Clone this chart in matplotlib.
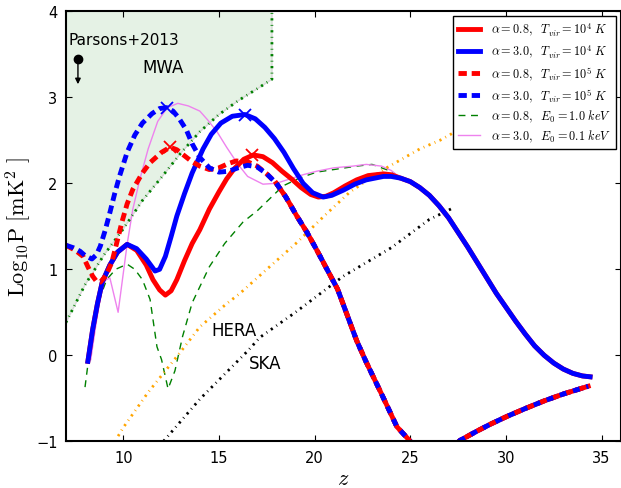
""" 21cm power spectrum vs redshift, with MWA / HERA / SKA sensitivities
"""
import numpy as np
import matplotlib
matplotlib.use('Agg')
from matplotlib import pyplot as plt

plt.rcParams['mathtext.fontset'] = 'cm'
plt.rcParams['lines.scale_dashes'] = False
plt.rcParams['xtick.direction'] = 'in'
plt.rcParams['ytick.direction'] = 'in'
plt.rcParams['xtick.top'] = True
plt.rcParams['ytick.right'] = True
plt.rcParams['xtick.major.size'] = 4
plt.rcParams['ytick.major.size'] = 4
plt.rcParams['xtick.major.pad'] = 6
plt.rcParams['ytick.major.pad'] = 6
plt.rcParams['axes.linewidth'] = 1.5

#% data
# common tail of the T_vir=1e4 K models
tail_z = [24.5, 25.0, 25.5, 26.0, 26.5, 27.0, 27.5, 28.0, 28.5, 29.0, 29.5, 30.0,
          30.5, 31.0, 31.5, 32.0, 32.5, 33.0, 33.5, 34.0, 34.4]
tail_v = [2.06, 2.02, 1.95, 1.86, 1.74, 1.60, 1.43, 1.26, 1.08, 0.90, 0.72, 0.56,
          0.40, 0.25, 0.11, 0.00, -0.09, -0.16, -0.21, -0.24, -0.25]

a08_t4_z = [8.15, 8.4, 8.65, 8.9, 9.3, 9.7, 10.2, 10.7, 11.2, 11.55, 11.9, 12.2,
            12.5, 12.8, 13.2, 13.6, 14.0, 14.5, 15.0, 15.4, 15.8, 16.3, 16.8, 17.3,
            17.8, 18.3, 18.8, 19.3, 19.8, 20.2, 20.6, 21.0, 21.6, 22.2, 22.8, 23.6, 24.0]
a08_t4_v = [-0.07, 0.30, 0.60, 0.85, 1.05, 1.20, 1.29, 1.22, 1.05, 0.88, 0.76, 0.70,
            0.75, 0.88, 1.10, 1.30, 1.46, 1.70, 1.90, 2.05, 2.17, 2.28, 2.33, 2.31,
            2.24, 2.14, 2.05, 1.95, 1.87, 1.84, 1.85, 1.89, 1.97, 2.04, 2.09, 2.11, 2.10]

a30_t4_z = [8.15, 8.4, 8.65, 8.9, 9.3, 9.7, 10.2, 10.7, 11.2, 11.66, 11.9, 12.2,
            12.5, 12.8, 13.2, 13.6, 14.17, 14.6, 15.1, 15.7, 16.36, 16.9, 17.4, 17.9,
            18.4, 18.9, 19.4, 19.9, 20.45, 20.9, 21.5, 22.1, 22.7, 23.6, 24.0]
a30_t4_v = [-0.07, 0.30, 0.60, 0.85, 1.05, 1.20, 1.29, 1.24, 1.12, 0.98, 1.00, 1.15,
            1.38, 1.62, 1.88, 2.12, 2.40, 2.57, 2.70, 2.78, 2.80, 2.75, 2.65, 2.52,
            2.36, 2.17, 2.00, 1.89, 1.84, 1.86, 1.92, 1.99, 2.04, 2.08, 2.08]

# T_vir=1e5 K models merge after z~18
t5_tail_z = [18.0, 18.5, 19.07, 19.6, 20.1, 20.6, 21.2, 21.7, 22.2, 22.7, 23.5,
             24.3, 25.0, 25.3, 27.3, 27.6, 28.5, 29.2, 30.06, 31.0, 32.0, 33.0, 34.3]
t5_tail_v = [2.00, 1.84, 1.62, 1.43, 1.23, 1.02, 0.77, 0.47, 0.17, -0.08, -0.45,
             -0.83, -1.00, -1.10, -1.05, -0.99, -0.88, -0.80, -0.71, -0.62, -0.53, -0.45, -0.36]

a08_t5_z = [7.0, 7.5, 7.9, 8.15, 8.4, 8.6, 8.8, 9.1, 9.4, 9.65, 9.93, 10.2, 10.5,
            11.0, 11.4, 12.0, 12.45, 12.8, 13.2, 13.6, 14.0, 14.5, 15.0, 15.5, 15.9,
            16.5, 17.0, 17.5]
a08_t5_v = [1.28, 1.22, 1.15, 1.03, 0.92, 0.86, 0.85, 0.93, 1.08, 1.30, 1.55, 1.76, 1.93,
            2.12, 2.24, 2.36, 2.42, 2.39, 2.32, 2.25, 2.20, 2.16, 2.18, 2.23, 2.26,
            2.25, 2.20, 2.11]

a30_t5_z = [7.0, 7.4, 7.74, 8.0, 8.36, 8.6, 8.8, 9.05, 9.3, 9.55, 9.8, 10.2, 10.6,
            11.0, 11.5, 11.9, 12.27, 12.6, 12.9, 13.3, 13.6, 14.0, 14.5, 15.0, 15.5,
            16.0, 16.5, 17.0, 17.5]
a30_t5_v = [1.28, 1.25, 1.21, 1.16, 1.12, 1.17, 1.27, 1.45, 1.66, 1.88, 2.08, 2.36, 2.56,
            2.70, 2.81, 2.87, 2.88, 2.84, 2.76, 2.62, 2.46, 2.30, 2.18, 2.13, 2.14,
            2.18, 2.21, 2.19, 2.11]

a08_e10_z = [8.0, 8.5, 9.13, 9.6, 10.2, 10.6, 11.0, 11.4, 11.76, 12.0, 12.34, 12.7,
             13.1, 13.6, 14.5, 15.3, 16.26, 17.0, 18.35, 19.2, 20.1, 21.3, 22.2,
             23.0, 24.0]
a08_e10_v = [-0.37, 0.50, 0.88, 1.00, 1.06, 1.00, 0.88, 0.65, 0.10, -0.05, -0.39, -0.18,
             0.22, 0.61, 1.03, 1.30, 1.55, 1.68, 1.97, 2.06, 2.13, 2.17, 2.20,
             2.22, 2.14]

a30_e01_z = [8.3, 8.6, 8.95, 9.3, 9.73, 10.2, 10.5, 10.87, 11.3, 11.8, 12.3, 12.85,
             13.4, 14.0, 14.4, 14.9, 15.4, 16.0, 16.5, 17.3, 18.0, 18.7, 19.4, 20.1,
             21.0, 22.0, 22.7, 23.5, 24.0]
a30_e01_v = [-0.05, 0.40, 0.86, 0.90, 0.50, 1.29, 1.70, 2.05, 2.40, 2.72, 2.88, 2.93,
             2.90, 2.84, 2.74, 2.60, 2.42, 2.22, 2.08, 1.99, 2.00, 2.05, 2.10, 2.14,
             2.18, 2.20, 2.22, 2.20, 2.15]

# peak markers
peak_z = {'blue': [12.27, 16.36], 'red': [12.45, 16.73]}
peak_v = {'blue': [2.88, 2.80], 'red': [2.42, 2.33]}

# instruments
mwa_z = [7.0, 8.0, 9.0, 10.0, 11.0, 12.0, 13.0, 14.0, 15.0, 16.0, 17.0, 17.77, 17.77]
mwa_v = [0.38, 0.82, 1.17, 1.47, 1.80, 2.07, 2.35, 2.60, 2.80, 2.96, 3.10, 3.21, 4.0]
hera_z = [9.73, 10.0, 11.3, 12.96, 14.0, 15.4, 16.1, 17.5, 19.07, 20.5, 21.85,
          23.6, 25.5, 26.55, 28.0]
hera_v = [-0.94, -0.84, -0.43, 0.03, 0.33, 0.60, 0.72, 1.00, 1.31, 1.62, 1.90,
          2.16, 2.40, 2.50, 2.68]
ska_z = [12.1, 14.0, 16.5, 17.15, 19.0, 21.5, 24.0, 26.0, 27.3]
ska_v = [-1.0, -0.51, 0.05, 0.21, 0.50, 0.92, 1.25, 1.58, 1.72]
parsons_z, parsons_v, parsons_lim = 7.63, 3.44, 3.12

labels = [r'$\alpha=0.8,\ \ T_{vir}=10^4\ K$',
          r'$\alpha=3.0,\ \ T_{vir}=10^4\ K$',
          r'$\alpha=0.8,\ \ T_{vir}=10^5\ K$',
          r'$\alpha=3.0,\ \ T_{vir}=10^5\ K$',
          r'$\alpha=0.8,\ \ E_0=1.0\ keV$',
          r'$\alpha=3.0,\ \ E_0=0.1\ keV$']

#% plot
fig = plt.figure(figsize=(6.21, 4.89), dpi=100)
ax = fig.add_axes([0.1061, 0.0955, 0.8934, 0.8793])

dd = (1.6, 3.2, 0.6, 3.2)  # dash-dot-ish pattern of the sensitivity curves
ax.fill_between(mwa_z, mwa_v, 4, color='green', alpha=0.1, lw=0)
ax.plot(mwa_z, mwa_v, color='0.85', lw=1, zorder=1.8)
ax.plot(mwa_z, mwa_v, color='g', lw=2, dashes=dd)
ax.plot(hera_z, hera_v, color='orange', lw=2, dashes=dd)
ax.plot(ska_z, ska_v, color='k', lw=2, dashes=dd)

ax.plot(a08_t4_z + tail_z, a08_t4_v + tail_v, 'r-', lw=3.5, label=labels[0])
ax.plot(a30_t4_z + tail_z, a30_t4_v + tail_v, 'b-', lw=3.5, label=labels[1])
ax.plot(a08_t5_z + t5_tail_z, a08_t5_v + t5_tail_v, 'r', lw=3.5, dashes=(6, 3.5),
        label=labels[2])
ax.plot(a30_t5_z + t5_tail_z, a30_t5_v + t5_tail_v, 'b', lw=3.5, dashes=(6, 3.5),
        label=labels[3])
# where the two T_vir=1e5 curves coincide the dashes alternate red / blue
ax.plot(t5_tail_z, t5_tail_v, 'r-', lw=3.5)
ax.plot(t5_tail_z, t5_tail_v, 'b', lw=3.5, dashes=(5, 5))
ax.plot(a08_e10_z + tail_z, a08_e10_v + tail_v, 'g', lw=1, dashes=(5, 4),
        label=labels[4], zorder=1.9)
ax.plot(a30_e01_z + tail_z, a30_e01_v + tail_v, color='violet', lw=1,
        label=labels[5], zorder=1.95)

for c in ['blue', 'red']:
    ax.plot(peak_z[c], peak_v[c], 'x', color=c, ms=8.5, mew=1.3)

ax.plot(parsons_z, parsons_v, 'ko', ms=6)
ax.annotate('', xy=(parsons_z, parsons_lim), xytext=(parsons_z, parsons_v),
            arrowprops=dict(arrowstyle='-|>', color='k', lw=1, mutation_scale=8))
ax.text(7.16, 3.67, 'Parsons+2013', fontsize=11, ha='left', va='center')
ax.text(12.08, 3.35, 'MWA', fontsize=12, ha='center', va='center')
ax.text(15.79, 0.29, 'HERA', fontsize=12, ha='center', va='center')
ax.text(17.4, -0.09, 'SKA', fontsize=12, ha='center', va='center')

ax.set_xlim(7, 36)
ax.set_ylim(-1, 4)
ax.set_xticks([10, 15, 20, 25, 30, 35])
ax.set_yticks([-1, 0, 1, 2, 3, 4])
ax.tick_params(labelsize=10.5)
ax.set_xlabel(r'$z$', fontsize=16)
ax.set_ylabel(r'$\mathrm{Log_{10}P\ [mK^2\ ]}$', fontsize=16)
ax.xaxis.set_label_coords(0.5, -0.062)
ax.yaxis.set_label_coords(-0.059, 0.5)

leg = ax.legend(loc='upper right', fontsize=8.8, handlelength=1.8, handletextpad=0.9,
                labelspacing=0.33, borderaxespad=0.4, fancybox=False, framealpha=1)
leg.get_frame().set_edgecolor('k')

fig.savefig('out.png', dpi=100)
